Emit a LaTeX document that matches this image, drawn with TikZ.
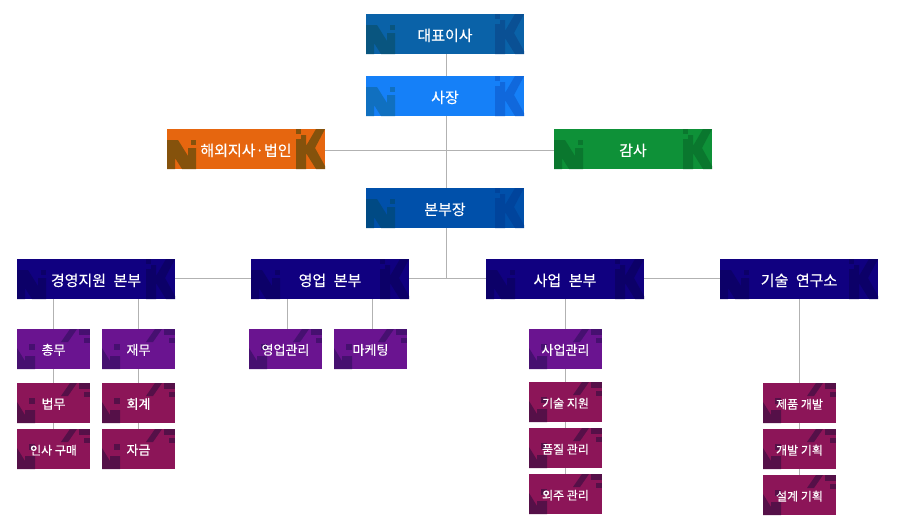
\documentclass[tikz,border=0pt]{standalone}
\usepackage{fontspec}
\setmainfont[FakeBold=0.25]{Noto Sans CJK KR}
\definecolor{ceoC}{HTML}{0A62A8}
\definecolor{ceoN}{HTML}{09557F}
\definecolor{ceoK}{HTML}{0A5094}
\definecolor{preC}{HTML}{1580F8}
\definecolor{preN}{HTML}{1070C0}
\definecolor{preK}{HTML}{1068DC}
\definecolor{forC}{HTML}{E6660F}
\definecolor{forN}{HTML}{85520C}
\definecolor{audC}{HTML}{0E9138}
\definecolor{audN}{HTML}{0A772E}
\definecolor{hqC}{HTML}{0050AA}
\definecolor{hqN}{HTML}{004A84}
\definecolor{hqK}{HTML}{00449C}
\definecolor{divC}{HTML}{100080}
\definecolor{divN}{HTML}{0C0068}
\definecolor{teamC}{HTML}{6A1490}
\definecolor{teamN}{HTML}{461070}
\definecolor{unitC}{HTML}{8C1558}
\definecolor{unitN}{HTML}{551048}
\definecolor{wire}{HTML}{B2B2B2}
\tikzset{
  bigbox/.style n args={3}{minimum width=158pt, minimum height=40pt, inner sep=0pt, text=white,
    text height=14pt, text depth=0pt, font=\fontsize{15}{15}\selectfont, fill=#1,
    path picture={
      \fill[#2] (path picture bounding box.north west) +(0,11) -- +(11,11) -- +(21,27) -- +(21,19) -- +(29,19) -- +(29,40) -- +(15,40) -- +(8,29) -- +(8,40) -- +(0,40) -- cycle;
      \fill[#2] (path picture bounding box.north west) +(24,11) rectangle +(29,16);
      \fill[#3] (path picture bounding box.north west) +(129,0) rectangle +(134,5);
      \fill[#3] (path picture bounding box.north west) +(129,10) -- +(134,10) -- +(134,6) -- +(139,6) -- +(139,17) -- +(149,0) -- +(158,0) -- +(148,19) -- +(158,37) -- +(158,40) -- +(149,40) -- +(139,24) -- +(139,40) -- +(129,40) -- cycle;
    }},
  smallbox/.style n args={2}{minimum width=73pt, minimum height=40pt, inner sep=0pt, text=white,
    text height=11.5pt, text depth=0pt, font=\fontsize{13}{13}\selectfont, fill=#1,
    path picture={
      \fill[#2] (path picture bounding box.north west) +(0,19) -- +(8,32) -- +(8,27) -- +(18,27) -- +(18,40) -- +(0,40) -- cycle;
      \fill[#2] (path picture bounding box.north west) +(12,15) rectangle +(18,21);
      \fill[#2] (path picture bounding box.north west) +(53,0) -- +(60,0) -- +(51,13) -- +(44,13) -- cycle;
      \fill[#2] (path picture bounding box.north west) +(62,0) rectangle +(73,6);
      \fill[#2] (path picture bounding box.north west) +(67,9) rectangle +(73,14);
    }},
  ceobox/.style={bigbox={ceoC}{ceoN}{ceoK}},
  prebox/.style={bigbox={preC}{preN}{preK}},
  forbox/.style={bigbox={forC}{forN}{forN}},
  audbox/.style={bigbox={audC}{audN}{audN}},
  hqbox/.style={bigbox={hqC}{hqN}{hqK}},
  divbox/.style={bigbox={divC}{divN}{divN}},
  teambox/.style={smallbox={teamC}{teamN}},
  unitbox/.style={smallbox={unitC}{unitN}},
  tight/.style={font=\fontsize{12}{12}\selectfont},
  wired/.style={draw=wire, line width=1pt}
}
\begin{document}
\begin{tikzpicture}[x=1pt, y=-1pt]
  \useasboundingbox (0,0) rectangle (900,530);
  % top of the chart
  \node[ceobox] (ceo) at (445,34) {대표이사};
  \node[prebox] (pres) at (445,96) {사장};
  \node[forbox] (foreign) at (246,149) {해외지사·법인};
  \node[audbox] (audit) at (633,149) {감사};
  \node[hqbox] (hq) at (445,208) {본부장};
  % divisions
  \node[divbox] (mgmt) at (96,279) {경영지원\hspace{.5em}본부};
  \node[divbox] (sales) at (330,279) {영업\hspace{.5em}본부};
  \node[divbox] (biz) at (565,279) {사업\hspace{.5em}본부};
  \node[divbox] (tech) at (799,279) {기술\hspace{.5em}연구소};
  % teams
  \node[teambox] (gen) at (53.5,349) {총무};
  \node[unitbox] (law) at (53.5,403) {법무};
  \node[unitbox, tight] (hr) at (53.5,449) {인사 구매};
  \node[teambox] (fin) at (138.5,349) {재무};
  \node[unitbox] (acc) at (138.5,403) {회계};
  \node[unitbox] (fund) at (138.5,449) {자금};
  \node[teambox] (smg) at (285.5,349) {영업관리};
  \node[teambox] (mkt) at (370.5,349) {마케팅};
  \node[teambox] (bmg) at (565.5,349) {사업관리};
  \node[unitbox, tight] (sup) at (565.5,402) {기술 지원};
  \node[unitbox, tight] (qa) at (565.5,448) {품질 관리};
  \node[unitbox, tight] (out) at (565.5,494) {외주 관리};
  \node[unitbox, tight] (dev) at (799.5,403) {제품 개발};
  \node[unitbox, tight] (plan) at (799.5,449) {개발 기획};
  \node[unitbox, tight] (des) at (799.5,495) {설계 기획};
  % connectors
  \coordinate (trunk) at (446.5,150.5);
  \coordinate (bus) at (446.5,278.5);
  \draw[wired] (ceo.south -| trunk) -- (pres.north -| trunk);
  \draw[wired] (pres.south -| trunk) -- (hq.north -| trunk);
  \draw[wired] (foreign.east |- trunk) -- (audit.west |- trunk);
  \draw[wired] (hq.south -| trunk) -- (bus);
  \draw[wired] (mgmt.east |- bus) -- (sales.west |- bus);
  \draw[wired] (sales.east |- bus) -- (biz.west |- bus);
  \draw[wired] (biz.east |- bus) -- (tech.west |- bus);
  \draw[wired] (mgmt.south -| gen) -- (gen.north);
  \draw[wired] (gen.south) -- (law.north);
  \draw[wired] (law.south) -- (hr.north);
  \draw[wired] (mgmt.south -| fin) -- (fin.north);
  \draw[wired] (fin.south) -- (acc.north);
  \draw[wired] (acc.south) -- (fund.north);
  \coordinate (smgtop) at (287.5,299);
  \coordinate (mkttop) at (372,299);
  \draw[wired] (smgtop) -- (smgtop |- smg.north);
  \draw[wired] (mkttop) -- (mkttop |- mkt.north);
  \draw[wired] (biz.south -| bmg) -- (bmg.north);
  \draw[wired] (bmg.south) -- (sup.north);
  \draw[wired] (sup.south) -- (qa.north);
  \draw[wired] (qa.south) -- (out.north);
  \draw[wired] (tech.south -| dev) -- (dev.north);
  \draw[wired] (dev.south) -- (plan.north);
  \draw[wired] (plan.south) -- (des.north);
\end{tikzpicture}
\end{document}
